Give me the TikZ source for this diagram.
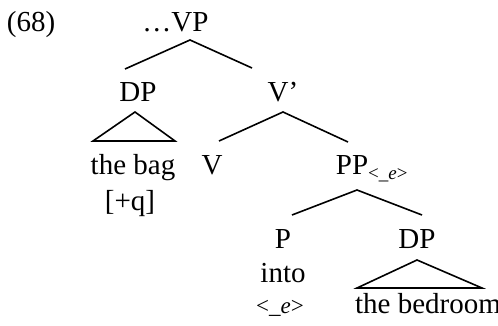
\documentclass[tikz,border=0pt]{standalone}
\usepackage{fontspec}
\setmainfont{Liberation Serif}
\usetikzlibrary{positioning}

\begin{document}
\begin{tikzpicture}[x=0.5pt,y=-0.5pt,line width=0.8pt,
    lbl/.style={anchor=base,inner sep=0pt,font=\fontsize{14.5}{17}\selectfont}]
  \useasboundingbox (0,0) rectangle (498,326);
  % labels
  \node[lbl] (ex)    at (31,32)   {(68)};
  \node[lbl] (vp)    at (190,32)  {\llap{\dots}VP};
  \node[lbl] (dp1)   at (138,102) {DP};
  \node[lbl] (bag)   at (133,175) {the bag};
  \node[lbl] (plusq) at (130,210) {[+q]};
  \node[lbl] (v)     at (212,175) {V};
  \node[lbl] (vbar)  at (283,102) {V’};
  \node[lbl] (pp)    at (352,175) {PP\rlap{\raisebox{-2pt}{\fontsize{9.5}{10}\selectfont<\_\textit{e}>}}};
  \node[lbl] (p)     at (283,248) {P};
  \node[lbl] (dp2)   at (417,248) {DP};
  \node[lbl] (into)  at (283,282) {into};
  \node[lbl] (trc)   at (280,313) {\fontsize{11.5}{13}\selectfont<\_\textit{e}>};
  \node[lbl] (bed)   at (428,313) {the bedroom};
  % branches
  \draw (vp.base) ++(-65,37) -- ++(65,-29) -- ++(62,28);
  \draw (dp1.base) ++(-3,10) -- ++(-42,29) -- ++(82,0) -- cycle;
  \draw (vbar.base) ++(-64,39) -- ++(64,-29) -- ++(65,30);
  \draw (pp.base) ++(-60,40) -- ++(65,-25) -- ++(65,25);
  \draw (dp2.base) ++(0,12) -- ++(-60,28) -- ++(125,0) -- cycle;
\end{tikzpicture}
\end{document}
